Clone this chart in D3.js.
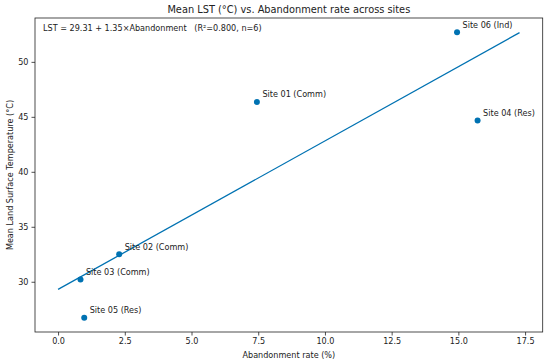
<!DOCTYPE html>
<html><head><meta charset="utf-8">
<script src="https://cdn.jsdelivr.net/npm/d3@7"></script>
<style>body{margin:0;background:#fff}svg{display:block}text{font-family:"DejaVu Sans",sans-serif;fill:#222;white-space:pre}</style>
</head><body><svg id="c" width="550" height="364"></svg>
<script>
const sites = ["Site 01 (Comm)","Site 02 (Comm)","Site 03 (Comm)","Site 04 (Res)","Site 05 (Res)","Site 06 (Ind)"];
const abandonment = [7.45, 2.29, 0.84, 15.72, 0.98, 14.95];
const lst = [46.36, 32.51, 30.20, 44.66, 26.73, 52.69];
const intercept = 29.31, slope = 1.35;
const xTicks = [0, 2.5, 5, 7.5, 10, 12.5, 15, 17.5];
const yTicks = [30, 35, 40, 45, 50];
const title = "Mean LST (°C) vs. Abandonment rate across sites";
const eqText = "LST = 29.31 + 1.35×Abandonment   (R²=0.800, n=6)";

const svg = d3.select("#c");
const L = 35, R = 542.7, T = 18, B = 332;
const fs = 8.1;
const lineX = [0, d3.max(abandonment) * 1.1];
const x = d3.scaleLinear().domain([-0.8646, 18.16]).range([L, R]);
const y = d3.scaleLinear().domain([25.43, 53.99]).range([B, T]);
const col = "#0072B2";

svg.append("g").attr("transform", `translate(0,${B})`)
  .call(d3.axisBottom(x).tickValues(xTicks).tickFormat(d3.format(".1f")).tickSize(3.5).tickPadding(3))
  .call(g => { g.select(".domain").remove(); g.selectAll("text").attr("font-size", fs).attr("fill","#222"); g.selectAll("line").attr("stroke","#222").attr("stroke-width",0.8); });
svg.append("g").attr("transform", `translate(${L},0)`)
  .call(d3.axisLeft(y).tickValues(yTicks).tickFormat(d3.format("d")).tickSize(3.5).tickPadding(3))
  .call(g => { g.select(".domain").remove(); g.selectAll("text").attr("font-size", fs).attr("fill","#222"); g.selectAll("line").attr("stroke","#222").attr("stroke-width",0.8); });

svg.append("rect").attr("x", L).attr("y", T).attr("width", R - L).attr("height", B - T)
  .attr("fill", "none").attr("stroke", "#222").attr("stroke-width", 0.8);

svg.append("line").attr("x1", x(lineX[0])).attr("y1", y(intercept + slope * lineX[0]))
  .attr("x2", x(lineX[1])).attr("y2", y(intercept + slope * lineX[1]))
  .attr("stroke", col).attr("stroke-width", 1.3);

svg.selectAll("circle.pt").data(sites).join("circle").attr("class","pt")
  .attr("cx", (d,i) => x(abandonment[i])).attr("cy", (d,i) => y(lst[i])).attr("r", 3).attr("fill", col);

svg.selectAll("text.lab").data(sites).join("text").attr("class","lab")
  .attr("x", (d,i) => x(abandonment[i]) + 5.5).attr("y", (d,i) => y(lst[i]) - 4.5)
  .attr("font-size", fs).text(d => d);

svg.append("text").attr("x", 43).attr("y", 30.5).attr("font-size", fs).text(eqText);

svg.append("text").attr("x", (L + R) / 2).attr("y", 12.5).attr("text-anchor","middle").attr("font-size", 9.8).text(title);
svg.append("text").attr("x", (L + R) / 2).attr("y", 358).attr("text-anchor","middle").attr("font-size", fs).text("Abandonment rate (%)");
svg.append("text").attr("transform", `translate(13,${(T + B) / 2}) rotate(-90)`).attr("text-anchor","middle").attr("font-size", fs).text("Mean Land Surface Temperature (°C)");
</script></body></html>
